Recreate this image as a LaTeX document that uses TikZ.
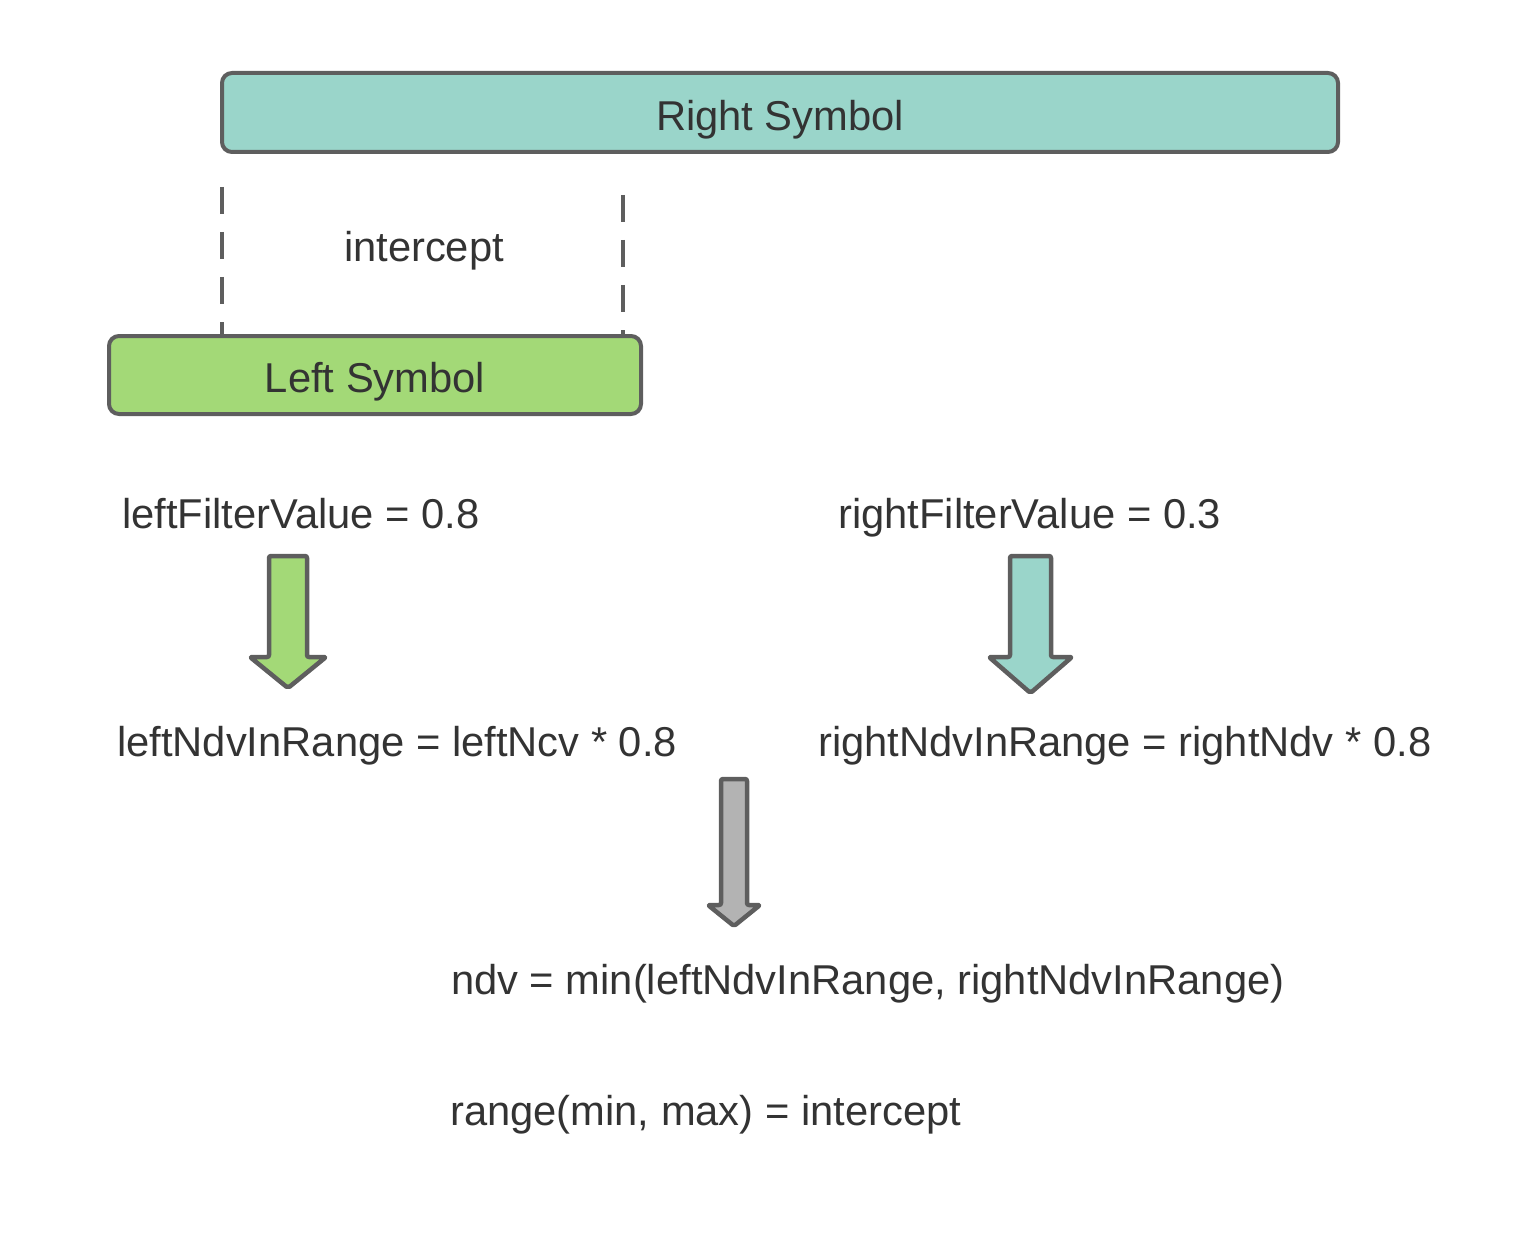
\documentclass[tikz,border=0pt]{standalone}
\usepackage{fontspec}
\setmainfont{Liberation Sans}
\definecolor{txt}{HTML}{333333}
\definecolor{edge}{HTML}{5E5E5E}
\definecolor{tealfill}{HTML}{9AD5CA}
\definecolor{greenfill}{HTML}{A3D977}
\definecolor{grayfill}{HTML}{B3B3B3}
\tikzset{
  lbl/.style={inner sep=0pt, text=txt, font=\fontsize{41.7}{50}\selectfont},
  symbox/.style={draw=edge, line width=4pt, rounded corners=10pt},
  guide/.style={draw=edge, line width=3.5pt, dash pattern=on 27pt off 18pt},
  bigarrow/.style={draw=edge, line width=4.5pt, line join=round, rounded corners=2pt}
}
\begin{document}
\begin{tikzpicture}[x=1pt,y=-1pt]
\useasboundingbox (0,0) rectangle (1515,1249);
% boxes
\draw[symbox, fill=tealfill] (222,73) rectangle (1338,152);
\node[lbl, anchor=base] (rs) at (780,131) {Right Symbol};
\draw[symbox, fill=greenfill] (109,336) rectangle (641,414);
\node[lbl, anchor=base] (ls) at (375,392) {Left Symbol};
% dashed guides
\coordinate (g1a) at (222,187);
\coordinate (g1b) at (222,334);
\coordinate (g2a) at (623,195);
\coordinate (g2b) at (623,334);
\draw[guide] (g1a) -- (g1b);
\draw[guide] (g2a) -- (g2b);
\node[lbl, anchor=base] (ic) at (424,262) {intercept};
% texts
\node[lbl, anchor=base west] (lf) at (122,528) {leftFilterValue = 0.8};
\node[lbl, anchor=base west] (rf) at (838,528) {rightFilterValue = 0.3};
\node[lbl, anchor=base west] (ln) at (117,756) {leftNdvInRange = leftNcv * 0.8};
\node[lbl, anchor=base west] (rn) at (818,756) {rightNdvInRange = rightNdv * 0.8};
\node[lbl, anchor=base west] (nd) at (451,994) {ndv = min(leftNdvInRange, rightNdvInRange)};
\node[lbl, anchor=base west] (rg) at (450,1125) {range(min, max) = intercept};
% arrows
\draw[bigarrow, fill=greenfill] (269,556) -- (307,556) -- (307,657) -- (326,657) -- (288,688) -- (250,657) -- (269,657) -- cycle;
\draw[bigarrow, fill=tealfill] (1010,556) -- (1051,556) -- (1051,657) -- (1072,657) -- (1030.5,693) -- (989,657) -- (1010,657) -- cycle;
\draw[bigarrow, fill=grayfill] (721,779) -- (747,779) -- (747,905) -- (760,905) -- (734,926) -- (708,905) -- (721,905) -- cycle;
\end{tikzpicture}
\end{document}
